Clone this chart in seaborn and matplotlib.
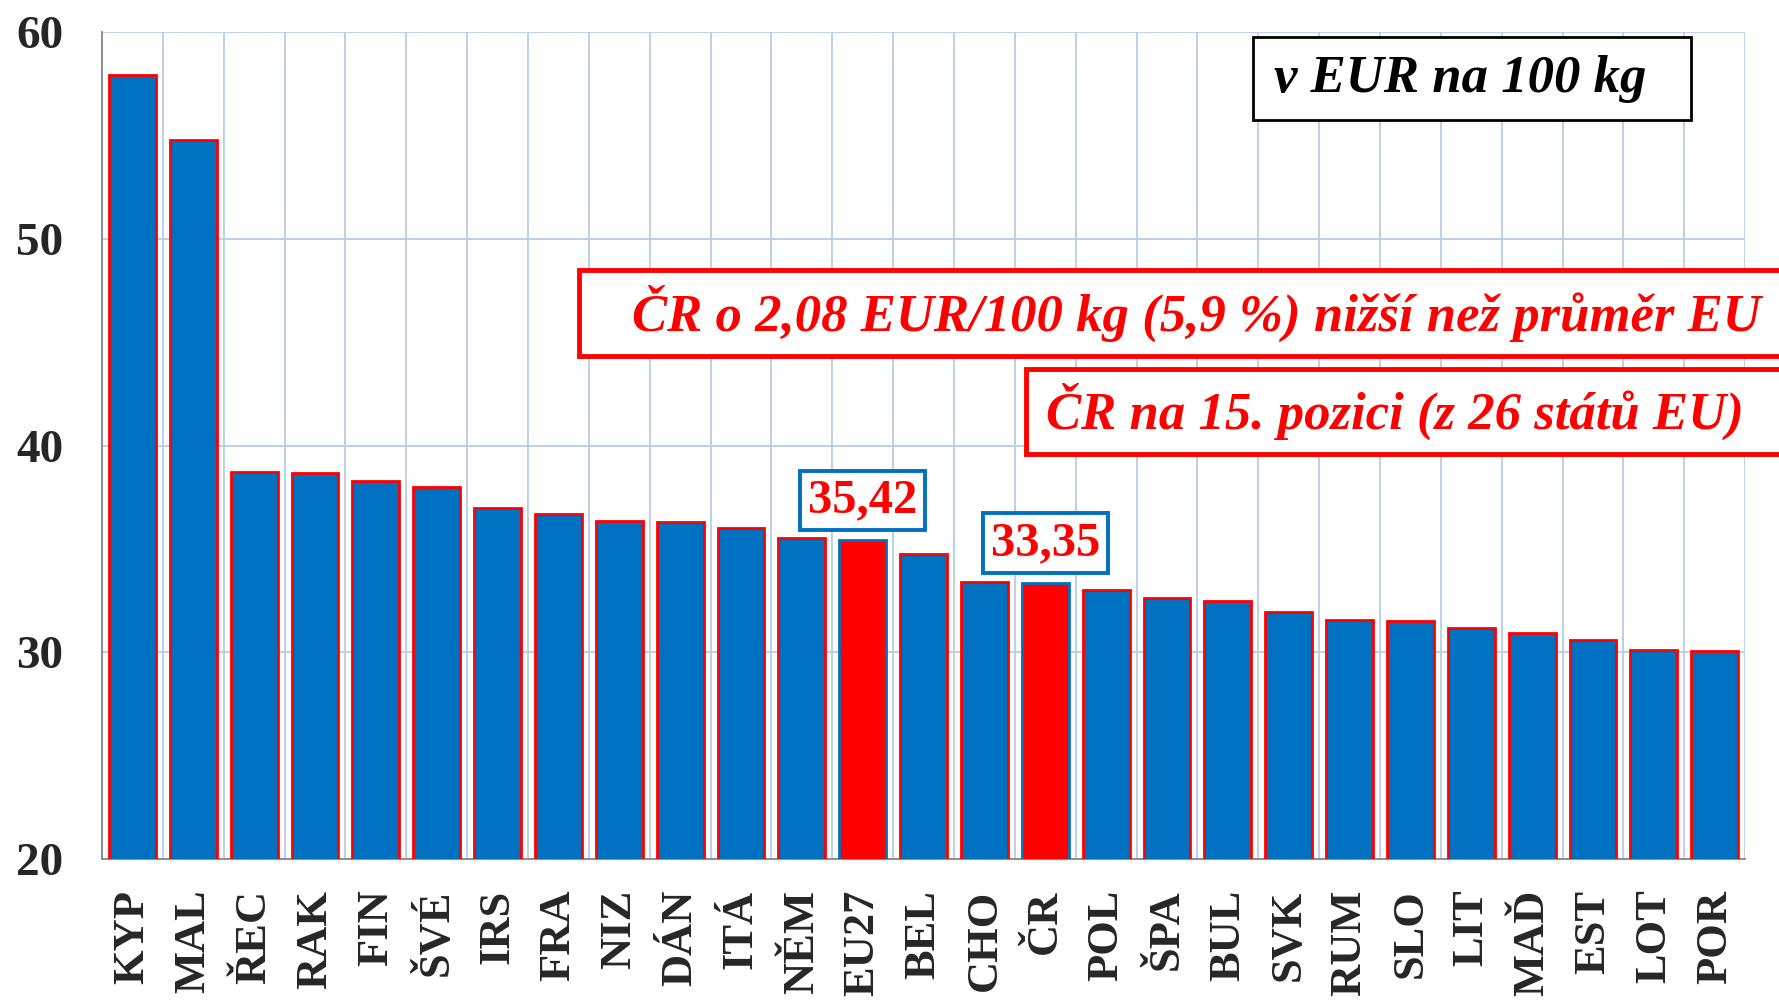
import numpy as np
import pandas as pd
import matplotlib
matplotlib.use('Agg')
import matplotlib.pyplot as plt
from matplotlib.patches import Rectangle
import seaborn as sns

# data (EUR / 100 kg)
zeme = ['KYP', 'MAL', 'ŘEC', 'RAK', 'FIN', 'ŠVÉ', 'IRS', 'FRA', 'NIZ', 'DÁN', 'ITÁ', 'NĚM', 'EU27',
        'BEL', 'CHO', 'ČR', 'POL', 'ŠPA', 'BUL', 'SVK', 'RUM', 'SLO', 'LIT', 'MAĎ', 'EST', 'LOT', 'POR']
cena = [57.9, 54.78, 38.7, 38.65, 38.3, 38.0, 37.0, 36.68, 36.35, 36.3, 36.0, 35.52, 35.42,
        34.76, 33.38, 33.35, 33.0, 32.6, 32.5, 31.96, 31.57, 31.52, 31.19, 30.92, 30.59, 30.1, 30.04]
zvyraznit = ['EU27', 'ČR']
popisky = {'EU27': '35,42', 'ČR': '33,35'}
y_ticks = [20, 30, 40, 50, 60]

modra = '#0070C0'
cervena = '#FF0000'
mrizka = '#B9CDE5'
seda = '#868686'

df = pd.DataFrame({'zeme': zeme, 'cena': cena})
barvy = [cervena if z in zvyraznit else modra for z in zeme]

sns.set_style('white')
plt.rcParams['font.family'] = ['Liberation Serif', 'DejaVu Serif']

fig = plt.figure(figsize=(17.79, 10), dpi=100)
ax = fig.add_axes([0.0573, 0.141, 0.9237, 0.827])

sns.barplot(data=df, x='zeme', y='cena', hue='zeme', palette=barvy, legend=False,
            width=0.77, saturation=1, ax=ax, zorder=3)

for patch, z in zip(ax.patches, zeme):
    patch.set_edgecolor(modra if z in zvyraznit else cervena)
    patch.set_linewidth(2)

ax.set_ylim(20, 60)
ax.set_xlim(-0.5, len(zeme) - 0.5)
ax.set_yticks(y_ticks)
ax.set_yticklabels([str(t) for t in y_ticks], fontsize=34, fontweight='bold')
ax.set_xticks(range(len(zeme)))
ax.set_xticklabels(zeme, rotation=90, fontsize=32, fontweight='bold')
ax.set_xticks(np.arange(-0.5, len(zeme)), minor=True)
ax.set_xlabel('')
ax.set_ylabel('')

ax.tick_params(axis='x', which='major', length=0, pad=22)
ax.tick_params(axis='x', which='minor', length=10, width=1.2, color=seda)
ax.tick_params(axis='y', length=10, width=1.2, color=seda, pad=18)

ax.grid(False)
ax.yaxis.grid(True, color=mrizka, linewidth=1.3, zorder=0)
ax.xaxis.grid(True, which='minor', color=mrizka, linewidth=1.3, zorder=0)
ax.set_axisbelow(True)

for s in ['top', 'right']:
    ax.spines[s].set_visible(False)
for s in ['left', 'bottom']:
    ax.spines[s].set_color(seda)
    ax.spines[s].set_linewidth(1.3)

# hodnoty nad zvyraznenymi sloupci
for z, txt in popisky.items():
    i = zeme.index(z)
    ax.text(i, cena[i] + 1.93, txt, ha='center', va='center', color=cervena,
            fontsize=35, fontweight='bold', zorder=6,
            bbox=dict(boxstyle='square,pad=0.16', fc='white', ec=modra, lw=2.8))

# textove ramecky
def ramecek(x0, y0, w, h, barva, lw):
    fig.add_artist(Rectangle((x0, y0), w, h, transform=fig.transFigure, fc='white',
                             ec=barva, lw=lw, zorder=5, clip_on=False))

ramecek(0.7043, 0.880, 0.2462, 0.083, 'black', 2)
fig.text(0.8207, 0.921, 'v EUR na 100 kg', ha='center', va='center', fontsize=38,
         fontweight='bold', fontstyle='italic', color='black', zorder=6)

ramecek(0.3255, 0.644, 0.70, 0.086, cervena, 3.5)
fig.text(0.3553, 0.687, 'ČR o 2,08 EUR/100 kg (5,9 %) nižší než průměr EU', ha='left',
         va='center', fontsize=38, fontweight='bold', fontstyle='italic', color=cervena, zorder=6)

ramecek(0.5767, 0.546, 0.45, 0.085, cervena, 3.5)
fig.text(0.588, 0.589, 'ČR na 15. pozici (z 26 států EU)', ha='left', va='center',
         fontsize=38, fontweight='bold', fontstyle='italic', color=cervena, zorder=6)

fig.savefig('out.png', dpi=100)
